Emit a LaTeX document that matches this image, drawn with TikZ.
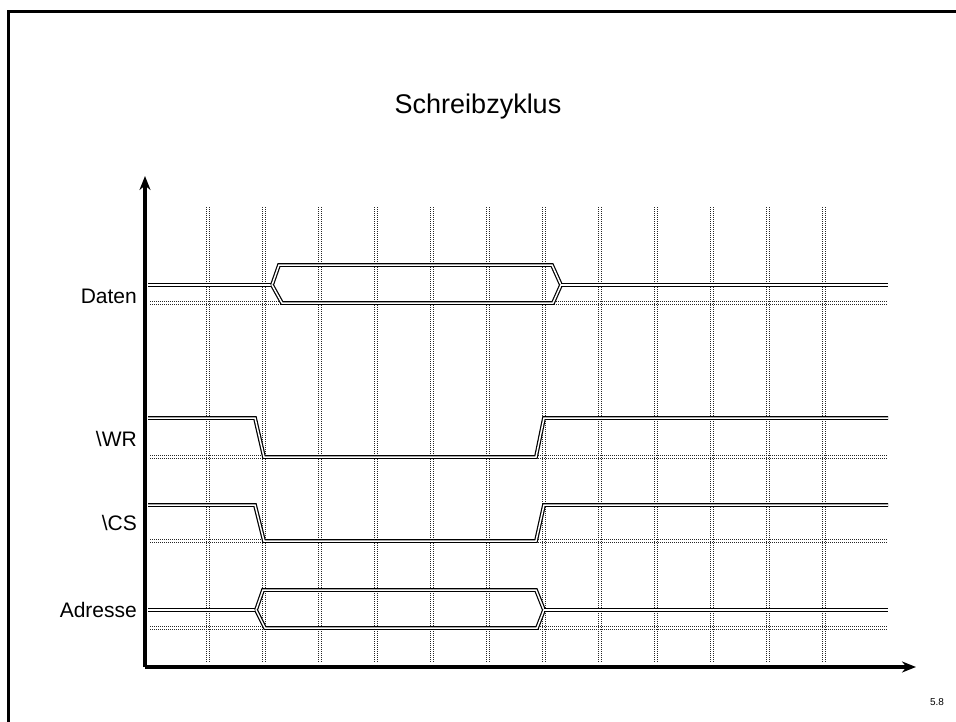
\documentclass[tikz,border=0pt]{standalone}
\usepackage{fontspec}
\setmainfont{Liberation Sans}
\usepackage{tikz}
\usetikzlibrary{arrows, arrows.meta, calc}
\tikzstyle{frame} = [draw=black, line width=3pt]
\tikzstyle{axis} = [line width=3.5pt, -{Stealth[length=14pt, width=11pt]}]
\tikzstyle{gridline} = [draw=black!85, line width=1pt, dash pattern=on 1pt off 1pt]
\tikzstyle{signal} = [draw=black, line width=1.2pt, double=white, double distance=1.5pt]
\tikzstyle{label} = [anchor=east, inner sep=0pt, font=\fontsize{21}{25}\selectfont]

\begin{document}
\begin{tikzpicture}[x=1pt, y=-1pt]
    \useasboundingbox (0,0) rectangle (956,721);
    \draw [frame] (8,760) -- (8,11) -- (990,11);

    % Titel
    \node (title) at (478,107) [font=\fontsize{27}{32}\selectfont] {Schreibzyklus};
    \node (page) at (937,702) [font=\fontsize{10}{12}\selectfont] {5.8};

    % Raster (gepunktete Doppellinien)
    \foreach \x in {208,264,...,824} {
        \draw [gridline] (\x-1.3,207) -- (\x-1.3,663);
        \draw [gridline] (\x+1.3,207) -- (\x+1.3,663);
    }
    \foreach \y in {303,457,541,628} {
        \draw [gridline] (150,\y-1.3) -- (888,\y-1.3);
        \draw [gridline] (150,\y+1.3) -- (888,\y+1.3);
    }

    % Achsen
    \coordinate (origin) at (145,667);
    \coordinate (ytop) at (145,176);
    \coordinate (xend) at (916,667);
    \draw [axis] (origin) -- (ytop);
    \draw [axis] (origin) -- (xend);

    % Beschriftung
    \node (daten) [label] at (137,296) {Daten};
    \node (wr) [label] at (137,439) {\textbackslash WR};
    \node (cs) [label] at (137,523) {\textbackslash CS};
    \node (adresse) [label] at (137,610) {Adresse};

    % Daten
    \draw [signal] (148,285) -- (272,285);
    \draw [signal] (272,285) -- (279,265) -- (552,265) -- (561,285);
    \draw [signal] (272,285) -- (282,303) -- (553,303) -- (561,285);
    \draw [signal] (561,285) -- (888,285);

    % \WR
    \draw [signal] (148,418) -- (255,418) -- (264,457) -- (536,457) -- (544,418) -- (888,418);

    % \CS
    \draw [signal] (148,505) -- (255,505) -- (264,541) -- (536,541) -- (544,505) -- (888,505);

    % Adresse
    \draw [signal] (148,610) -- (256,610);
    \draw [signal] (256,610) -- (263,590) -- (536,590) -- (544,610);
    \draw [signal] (256,610) -- (265,628) -- (537,628) -- (544,610);
    \draw [signal] (544,610) -- (888,610);
\end{tikzpicture}
\end{document}
